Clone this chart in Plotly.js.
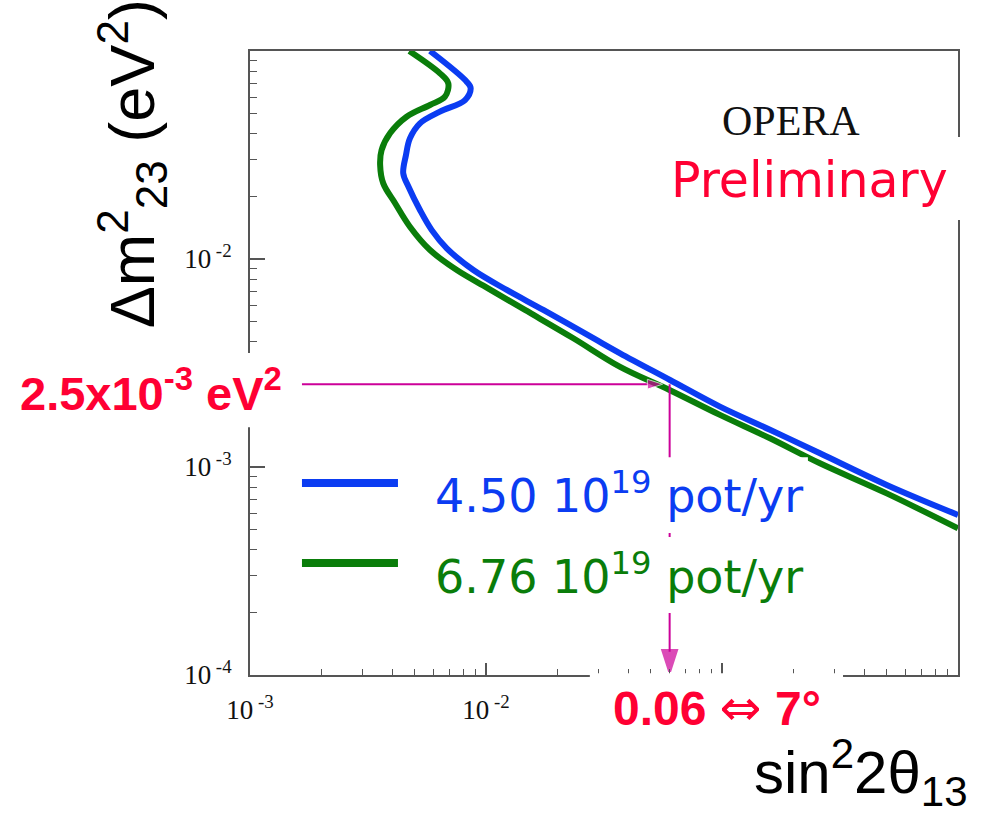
<!DOCTYPE html>
<html>
<head>
<meta charset="utf-8">
<script src="https://cdn.plot.ly/plotly-3.0.1.min.js"></script>
<style>html,body{margin:0;padding:0;background:#fff;}#chart{width:987px;height:817px;}</style>
</head>
<body>
<div id="chart"></div>
<script>
// ---- data (sin^2 2theta13 vs dm^2_23, log-log) ----
const sin2Blue = [0.00579, 0.00828, 0.00861, 0.00815, 0.00638, 0.00525, 0.00476, 0.00458, 0.00446, 0.00469, 0.00525, 0.00589, 0.00682, 0.00884, 0.01224, 0.01749, 0.0285, 0.037, 0.0602, 0.098, 0.1597, 0.26, 0.4987, 1.0];
const dm2Blue  = [0.1, 0.0712, 0.0662, 0.0581, 0.0511, 0.0449, 0.0380, 0.0316, 0.0258, 0.0223, 0.0172, 0.01377, 0.01126, 0.00885, 0.0071, 0.00569, 0.00416, 0.00352, 0.00262, 0.00195, 0.00151, 0.001164, 0.00082, 0.000588];
const sin2Green = [0.00473, 0.00638, 0.00692, 0.0067, 0.00579, 0.00461, 0.00392, 0.00361, 0.00356, 0.00367, 0.00412, 0.00476, 0.00579, 0.00752, 0.0102, 0.01463, 0.02344, 0.037, 0.0602, 0.098, 0.1597, 0.26, 0.4987, 1.0];
const dm2Green  = [0.1, 0.0781, 0.07, 0.0603, 0.055, 0.0483, 0.0402, 0.0334, 0.0283, 0.0231, 0.01854, 0.01429, 0.01104, 0.00885, 0.00723, 0.00569, 0.00416, 0.00303, 0.00234, 0.00178, 0.001374, 0.001042, 0.000747, 0.000507];
const seriesNames = ['4.50 10<sup>19</sup> pot/yr', '6.76 10<sup>19</sup> pot/yr'];

// marked working point
const markSin2 = 0.06;
const markDm2 = 2.5e-3;
const hArrowFrom = 0.001;   // arrow starts at the left axis
const hArrowTip = 0.056;    // arrow head touches the curve
const vArrowTip = 1.04e-4;  // arrow head at the bottom axis

// tick labels
const xTickVals = [1e-3, 1e-2, 1e-1, 1];
const xTickText = ['10<sup> -3</sup>', '10<sup> -2</sup>', '', ''];
const yTickVals = [1e-4, 1e-3, 1e-2, 1e-1];
const yTickText = ['10<sup> -4</sup>', '10<sup> -3</sup>', '10<sup> -2</sup>', ''];

// minor tick positions (2..9 in each decade)
function minors(decades){ const out=[]; decades.forEach(d=>{for(let m=2;m<=9;m++) out.push(m*d);}); return out; }
const xMinor = minors([1e-3,1e-2,1e-1]);
const yMinor = minors([1e-4,1e-3,1e-2]);

const BLUE = '#0b3cf2', GREEN = '#0a7d0a', MAG = '#cc0099', RED = '#ff0033';
const COMIC = 'Comic Sans MS, DejaVu Sans, sans-serif';
const SERIF = 'Liberation Serif, Times New Roman, serif';

const traces = [
  {x: sin2Blue, y: dm2Blue, name: '4.50 10^19 pot/yr', type: 'scatter', mode: 'lines',
   line: {color: BLUE, width: 6, shape: 'spline', smoothing: 1}, hoverinfo: 'skip'},
  {x: sin2Green, y: dm2Green, name: '6.76 10^19 pot/yr', type: 'scatter', mode: 'lines',
   line: {color: GREEN, width: 6, shape: 'spline', smoothing: 1}, hoverinfo: 'skip'},
  {x: [hArrowFrom, hArrowTip], y: [markDm2, markDm2], type: 'scatter', mode: 'lines+markers',
   line: {color: MAG, width: 2}, marker: {symbol: ['circle', 'arrow'], size: [0, 16], angleref: 'previous', color: MAG},
   showlegend: false, hoverinfo: 'skip'},
  {x: [markSin2, markSin2], y: [markDm2, vArrowTip], type: 'scatter', mode: 'lines+markers',
   line: {color: MAG, width: 2}, marker: {symbol: ['circle', 'arrow'], size: [0, 22], angleref: 'previous', color: MAG, line: {color: MAG, width: 3}},
   showlegend: false, hoverinfo: 'skip'}
];

const white = (x0,x1,y0,y1) => ({type:'rect', xref:'paper', yref:'paper', x0, x1, y0, y1, fillcolor:'#ffffff', line:{width:0}, layer:'above'});

const layout = {
  width: 987, height: 817,
  margin: {l: 250, r: 29, t: 51, b: 142, pad: 0},
  paper_bgcolor: '#ffffff', plot_bgcolor: '#ffffff',
  font: {family: SERIF, size: 27, color: '#111'},
  showlegend: false,
  xaxis: {
    type: 'log', range: [-3, 0], showline: true, linecolor: '#555', linewidth: 2, mirror: true,
    ticks: 'inside', tickcolor: '#555', tickwidth: 1.2, ticklen: 12, showgrid: false, zeroline: false,
    tickmode: 'array', tickvals: xTickVals, ticktext: xTickText, ticklabelstandoff: 10,
    tickfont: {family: SERIF, size: 27, color: '#111'},
    minor: {tickvals: xMinor, ticks: 'inside', ticklen: 6, tickcolor: '#555', tickwidth: 1}
  },
  yaxis: {
    type: 'log', range: [-4, -1], showline: true, linecolor: '#555', linewidth: 2, mirror: true,
    ticks: 'inside', tickcolor: '#555', tickwidth: 1.2, ticklen: 15, showgrid: false, zeroline: false,
    tickmode: 'array', tickvals: yTickVals, ticktext: yTickText, ticklabelstandoff: 11,
    tickfont: {family: SERIF, size: 27, color: '#111'},
    minor: {tickvals: yMinor, ticks: 'inside', ticklen: 7, tickcolor: '#555', tickwidth: 1}
  },
  shapes: [
    white(-0.36, 0.0734, 0.397, 0.516),   // 2.5x10^-3 label box
    white(0.480, 0.8376, -0.12, 0.003),   // 0.06 <=> 7 deg box
    white(0.0706, 0.788, 0.2276, 0.349),  // legend row 1
    white(0.0706, 0.7768, 0.0994, 0.2212),// legend row 2
    white(0.565, 1.02, 0.729, 0.862),     // Preliminary box
    {type:'line', xref:'paper', yref:'paper', x0:0.0734, x1:0.209, y0:0.3077, y1:0.3077, line:{color:BLUE, width:8}, layer:'above'},
    {type:'line', xref:'paper', yref:'paper', x0:0.0734, x1:0.209, y0:0.1795, y1:0.1795, line:{color:GREEN, width:8}, layer:'above'}
  ],
  annotations: [
    {text: 'OPERA', xref:'paper', yref:'paper', x:0.764, y:0.888, xanchor:'center', yanchor:'middle', showarrow:false,
     font:{family: SERIF, size:42, color:'#111'}},
    {text: 'Preliminary', xref:'paper', yref:'paper', x:0.790, y:0.793, xanchor:'center', yanchor:'middle', showarrow:false,
     font:{family: COMIC, size:49, color:RED}},
    {text: '2.5x10<sup>-3</sup> eV<sup>2</sup>', xref:'paper', yref:'paper', x:-0.3277, y:0.456, xanchor:'left', yanchor:'middle', showarrow:false,
     font:{family:'Liberation Sans, Arial, sans-serif', size:47, color:RED, weight:'bold'}},
    {text: '0.06 <span style="font-weight:normal;font-family:DejaVu Sans;font-size:50px">⇔</span> 7°', xref:'paper', yref:'paper', x:0.6596, y:-0.0529, xanchor:'center', yanchor:'middle', showarrow:false,
     font:{family:'Liberation Sans, Arial, sans-serif', size:48, color:RED, weight:'bold'}},
    {text: seriesNames[0], xref:'paper', yref:'paper', x:0.2585, y:0.292, xanchor:'left', yanchor:'middle', showarrow:false,
     font:{family: COMIC, size:46, color:BLUE}},
    {text: seriesNames[1], xref:'paper', yref:'paper', x:0.2585, y:0.162, xanchor:'left', yanchor:'middle', showarrow:false,
     font:{family: COMIC, size:46, color:GREEN}},
    {text: 'sin<sup>2</sup>2θ<sub>13</sub>', xref:'paper', yref:'paper', x:1.0169, y:-0.156, xanchor:'right', yanchor:'middle', showarrow:false,
     font:{family:'Liberation Sans, Arial, sans-serif', size:60, color:'#000'}},
    {text: 'Δm<sup>2</sup><sub>23</sub> (eV<sup>2</sup>)', xref:'paper', yref:'paper', x:-0.1667, y:0.820, xanchor:'center', yanchor:'middle', textangle:-90, showarrow:false,
     font:{family:'Liberation Sans, Arial, sans-serif', size:63, color:'#000'}}
  ]
};

Plotly.newPlot('chart', traces, layout, {displayModeBar: false, staticPlot: true});
</script>
</body>
</html>
